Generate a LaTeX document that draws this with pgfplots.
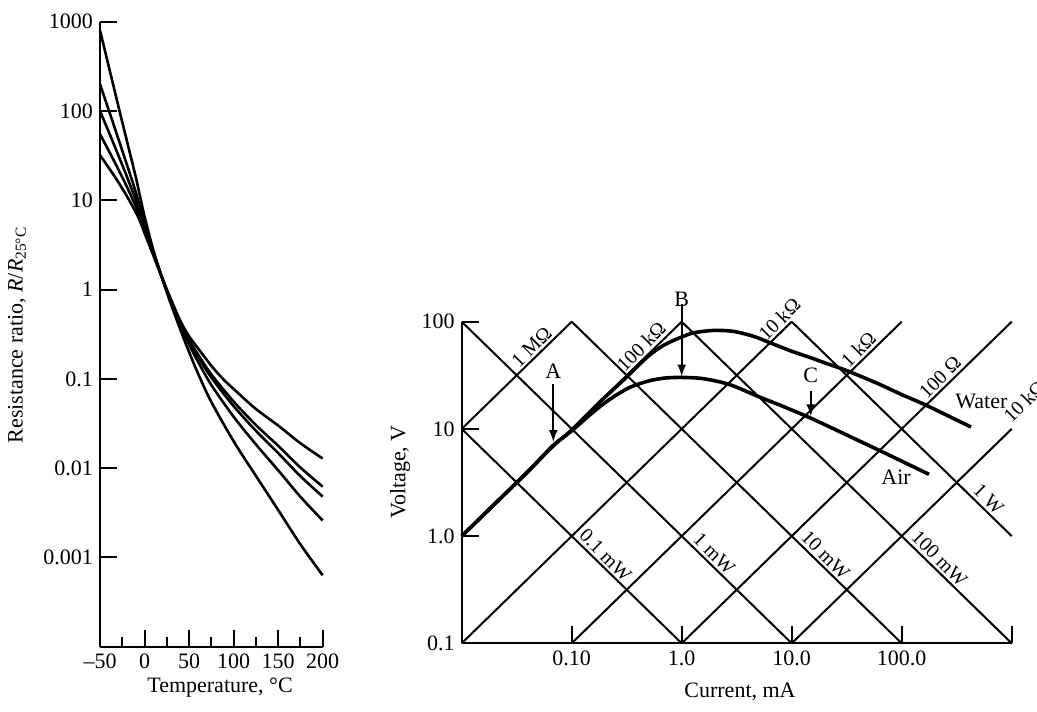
\documentclass[border=0pt]{standalone}
\usepackage{fontspec}
\setmainfont{Liberation Serif}
\usepackage{pgfplots}
\pgfplotsset{compat=1.18}
\begin{document}
\begin{tikzpicture}[font=\fontsize{11}{13}\selectfont]
\useasboundingbox (0,0) rectangle (518.5pt,-355.5pt);
% ---------------- left chart ----------------
\begin{axis}[
  at={(50pt,-323.35pt)}, anchor=south west,
  scale only axis, width=111.35pt, height=312.5pt,
  xmin=-50, xmax=200, ymode=log, ymin=1e-4, ymax=1e3,
  axis x line*=bottom, axis y line*=left,
  axis line style={line width=1pt,-},
  xtick={-50,0,50,100,150,200},
  xticklabels={\textendash50,0,50,100,150,200},
  minor xtick={-25,25,75,125,175},
  ytick={1000,100,10,1,0.1,0.01,0.001},
  yticklabels={1000,100,10,1,0.1,0.01,0.001},
  yminorticks=false,
  tick align=inside, major tick length=8.5pt, minor tick length=5pt,
  every tick/.style={line width=1pt, black},
  /pgf/number format/assume math mode=true,
  clip=false,
]
\addplot[black, line width=1.3pt, smooth] coordinates {(-50,800) (-40,310) (-30,120) (-20,47) (-10,18.5) (-5,11.0) (0,6.6) (10,2.75) (25,0.93) (40,0.36) (50,0.2) (60,0.115) (75,0.055) (100,0.02) (125,0.0082) (150,0.0034) (175,0.0014) (200,0.00063)};
\addplot[black, line width=1.3pt, smooth] coordinates {(-50,200) (-40,101) (-30,50.8) (-20,25.4) (-10,12.5) (-5,8.34) (0,5.49) (10,2.59) (25,0.96) (40,0.4) (50,0.242) (60,0.156) (75,0.0853) (100,0.0377) (125,0.01845) (150,0.00946) (175,0.00478) (200,0.00259)};
\addplot[black, line width=1.3pt, smooth] coordinates {(-50,100) (-40,57.8) (-30,33) (-20,18.6) (-10,10.2) (-5,7.27) (0,5.0) (10,2.52) (25,0.975) (40,0.418) (50,0.263) (60,0.178) (75,0.1033) (100,0.0495) (125,0.0262) (150,0.01476) (175,0.00813) (200,0.0048)};
\addplot[black, line width=1.3pt, smooth] coordinates {(-50,55) (-40,35.6) (-30,22.8) (-20,14.3) (-10,8.63) (-5,6.45) (0,4.61) (10,2.45) (25,0.99) (40,0.427) (50,0.272) (60,0.188) (75,0.112) (100,0.0557) (125,0.0304) (150,0.0178) (175,0.01016) (200,0.0062)};
\addplot[black, line width=1.3pt, smooth] coordinates {(-50,32) (-40,23) (-30,16.3) (-20,11.2) (-10,7.4) (-5,5.8) (0,4.3) (10,2.4) (25,1.0) (40,0.45) (50,0.3) (60,0.22) (75,0.14) (88,0.1) (100,0.077) (125,0.046) (150,0.03) (175,0.019) (200,0.0128)};
\end{axis}
\node[rotate=90] at (8.5pt,-167.5pt) {Resistance ratio, \textit{R}/\textit{R}\textsubscript{25°C}};
\node at (110pt,-344pt) {Temperature, °C};
% ---------------- right chart ----------------
\begin{axis}[
  at={(230.85pt,-321.65pt)}, anchor=south west,
  scale only axis, width=275pt, height=160.8pt,
  xmode=log, ymode=log, xmin=0.01, xmax=1000, ymin=0.1, ymax=100,
  axis x line*=bottom, axis y line*=left,
  axis line style={line width=1pt,-},
  xtick={0.01,0.1,1,10,100,1000},
  xticklabels={,0.10,1.0,10.0,100.0,},
  ytick={0.1,1,10,100},
  yticklabels={0.1,1.0,10,100},
  xminorticks=false, yminorticks=false,
  tick align=inside, major tick length=8.5pt,
  every tick/.style={line width=1pt, black},
  /pgf/number format/assume math mode=true,
  clip=false,
]
% resistance lines
\addplot[black, line width=1pt] coordinates {(0.01,10) (0.1,100)};
\addplot[black, line width=1pt] coordinates {(0.01,1) (1,100)};
\addplot[black, line width=1pt] coordinates {(0.01,0.1) (10,100)};
\addplot[black, line width=1pt] coordinates {(0.1,0.1) (100,100)};
\addplot[black, line width=1pt] coordinates {(1,0.1) (1000,100)};
\addplot[black, line width=1pt] coordinates {(10,0.1) (1000,10)};
% power lines
\addplot[black, line width=1pt] coordinates {(0.01,10) (1,0.1)};
\addplot[black, line width=1pt] coordinates {(0.01,100) (10,0.1)};
\addplot[black, line width=1pt] coordinates {(0.1,100) (100,0.1)};
\addplot[black, line width=1pt] coordinates {(1,100) (1000,0.1)};
\addplot[black, line width=1pt] coordinates {(10,100) (1000,1)};
% Air
\addplot[black, line width=1.8pt, smooth] coordinates {(0.01,1.0) (0.02,2.0) (0.04,4.0) (0.068,7.0) (0.1,9.6) (0.15,13.8) (0.2,17.5) (0.27,21.5) (0.35,24.8) (0.5,28) (0.7,29.8) (1.0,30.2) (1.5,29.6) (2.2,27.5) (3,25) (5,20) (8,16.5) (14.9,12.6) (30,9.0) (64.7,6.2) (100,5.0) (177,3.77)};
% Water
\addplot[black, line width=1.8pt, smooth] coordinates {(0.01,1.0) (0.02,2.0) (0.04,4.0) (0.068,7.0) (0.1,9.7) (0.175,17.3) (0.3,29) (0.5,48) (0.7,61) (1.0,72) (1.3,79) (2.0,83) (3.0,81) (4.5,73) (6.5,63) (10,53) (15,46) (20,41.3) (32,34.8) (60,26.6) (100,20.9) (159,17) (250,13.6) (427,10.4)};
% arrows
\draw[-latex, line width=1pt] (axis cs:0.068,26) -- (axis cs:0.068,7.6);
\node at (axis cs:0.068,34.8) {A};
\draw[-latex, line width=1pt] (axis cs:1.0,145) -- (axis cs:1.0,31);
\node at (axis cs:1.0,160) {B};
\draw[-latex, line width=1pt] (axis cs:14.9,22.7) -- (axis cs:14.9,13.2);
\node at (axis cs:14.9,31.3) {C};
\node at (axis cs:530,18.2) {Water};
\node at (axis cs:89,3.56) {Air};
% line labels
\begin{scope}[every node/.style={font=\fontsize{10}{12}\selectfont, inner sep=1.5pt}]
\node[rotate=45, anchor=south] at (axis cs:0.05,50) {1 MΩ};
\node[rotate=45, anchor=south] at (axis cs:0.5,50) {100 kΩ};
\node[rotate=45, anchor=south] at (axis cs:9,90) {10 kΩ};
\node[rotate=45, anchor=south] at (axis cs:47,47) {1 kΩ};
\node[rotate=45, anchor=south] at (axis cs:260,26) {100 Ω};
\node[rotate=45, anchor=south west] at (axis cs:1000,10) {10 kΩ};
\node[rotate=-45, anchor=south] at (axis cs:0.175,0.57) {0.1 mW};
\node[rotate=-45, anchor=south] at (axis cs:1.7,0.59) {1 mW};
\node[rotate=-45, anchor=south] at (axis cs:17.5,0.57) {10 mW};
\node[rotate=-45, anchor=south] at (axis cs:190,0.53) {100 mW};
\node[rotate=-45, anchor=south] at (axis cs:530,1.9) {1 W};
\end{scope}
\end{axis}
\node[rotate=90] at (200pt,-236pt) {Voltage, V};
\node at (370pt,-345.85pt) {Current, mA};
\end{tikzpicture}
\end{document}
